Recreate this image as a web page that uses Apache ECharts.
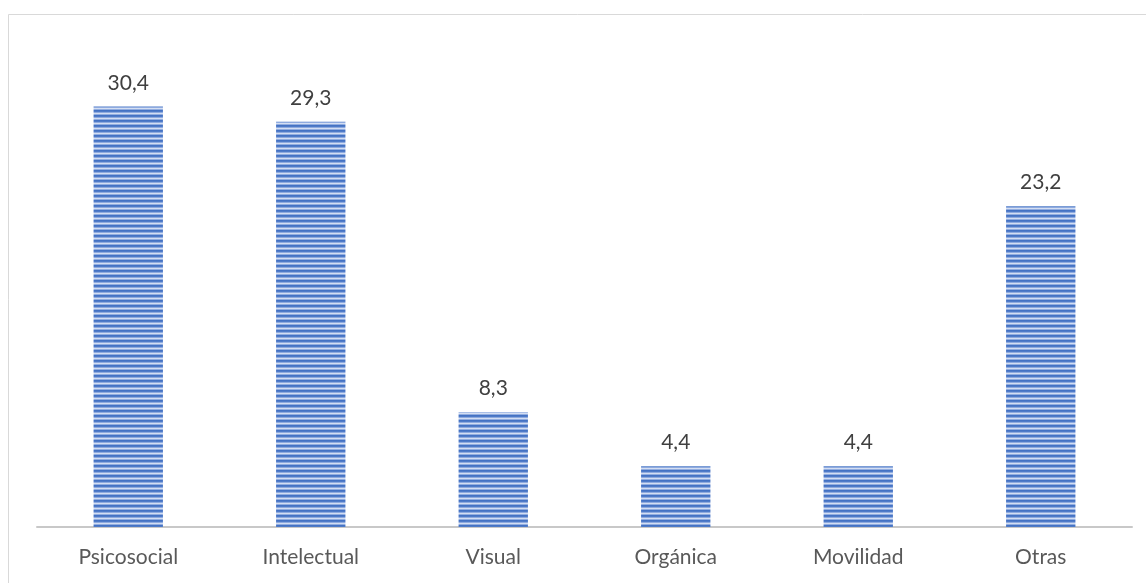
<!DOCTYPE html>
<html>
<head>
<meta charset="utf-8">
<script src="https://cdn.jsdelivr.net/npm/echarts@6/dist/echarts.min.js"></script>
<style>
  html, body { margin: 0; padding: 0; background: #ffffff; }
  #chart { width: 1146px; height: 583px; }
</style>
</head>
<body>
<div id="chart"></div>
<script>
// Distribution by type of disability (%)
const categories = ['Psicosocial', 'Intelectual', 'Visual', 'Orgánica', 'Movilidad', 'Otras'];
const values = [30.4, 29.3, 8.3, 4.4, 4.4, 23.2];

// Horizontal stripe fill for the bars (5px period, dark band fading to light)
function stripePattern() {
  const c = document.createElement('canvas');
  c.width = 4; c.height = 5;
  const ctx = c.getContext('2d');
  const rows = ['#4472c4', '#4f7bc8', '#8eaadf', '#d3def3', '#93aee0'];
  rows.forEach((col, i) => { ctx.fillStyle = col; ctx.fillRect(0, i, 4, 1); });
  return c;
}

const chart = echarts.init(document.getElementById('chart'), null, { renderer: 'canvas' });
const textFont = 'Lato, "Open Sans", sans-serif';

chart.setOption({
  animation: false,
  backgroundColor: '#ffffff',
  graphic: [{
    type: 'rect',
    shape: { x: 8.5, y: 14.5, width: 1200, height: 600 },
    style: { fill: 'none', stroke: '#d9d9d9', lineWidth: 1 },
    silent: true
  }],
  grid: { left: 37, right: 14, top: 43, bottom: 56 },
  xAxis: {
    type: 'category',
    data: categories,
    axisTick: { show: false },
    axisLine: { lineStyle: { color: '#c8c8c8', width: 2 } },
    axisLabel: { color: '#595959', fontSize: 21, fontFamily: textFont, margin: 20 }
  },
  yAxis: {
    type: 'value',
    min: 0, max: 35,
    show: false,
    splitLine: { show: false }
  },
  series: [{
    type: 'bar',
    data: values,
    barWidth: '38%',
    itemStyle: { color: { image: stripePattern(), repeat: 'repeat' } },
    label: {
      show: true,
      position: 'top',
      distance: 13,
      color: '#404040',
      fontSize: 21,
      fontFamily: textFont,
      formatter: p => String(p.value).replace('.', ',')
    }
  }]
});
</script>
</body>
</html>
